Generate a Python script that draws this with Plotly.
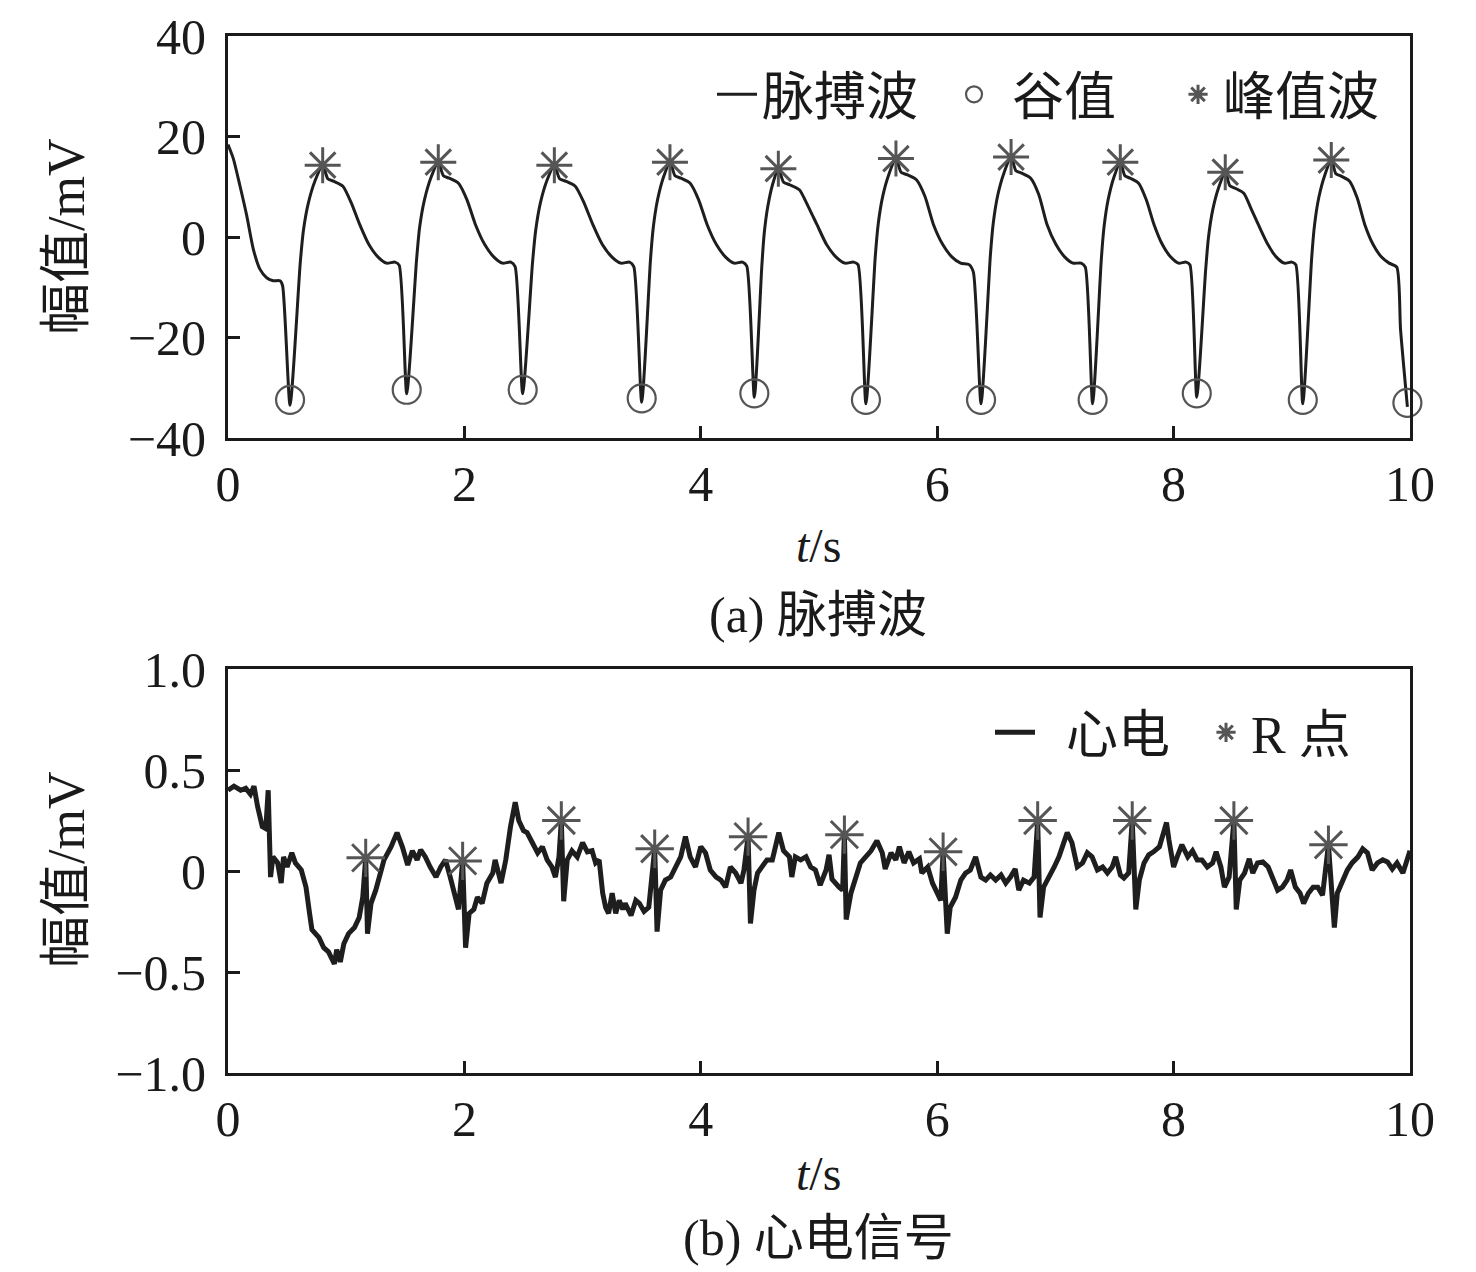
import plotly.graph_objects as go

# ---- (a) pulse wave ----
pulse_t = [
    0.000, 0.045, 0.100, 0.158, 0.214, 0.270, 0.327, 0.383, 0.440, 0.462, 0.525,
    0.611, 0.638, 0.680, 0.738, 0.801, 0.844, 0.893, 0.972, 1.043, 1.114, 1.192, 1.270, 1.341, 1.412, 1.448, 1.512,
    1.595, 1.621, 1.662, 1.718, 1.779, 1.822, 1.872, 1.950, 2.022, 2.093, 2.172, 2.250, 2.322, 2.393, 2.429, 2.493,
    2.576, 2.603, 2.643, 2.699, 2.761, 2.805, 2.857, 2.938, 3.012, 3.086, 3.167, 3.249, 3.323, 3.397, 3.433, 3.500,
    3.574, 3.598, 3.634, 3.684, 3.739, 3.782, 3.832, 3.910, 3.982, 4.053, 4.132, 4.210, 4.282, 4.353, 4.389, 4.453,
    4.516, 4.536, 4.567, 4.609, 4.656, 4.700, 4.752, 4.834, 4.908, 4.982, 5.064, 5.145, 5.219, 5.293, 5.330, 5.397,
    5.476, 5.501, 5.539, 5.593, 5.651, 5.694, 5.745, 5.824, 5.896, 5.968, 6.047, 6.126, 6.198, 6.270, 6.306, 6.371,
    6.450, 6.475, 6.513, 6.567, 6.625, 6.666, 6.715, 6.791, 6.860, 6.929, 7.005, 7.080, 7.149, 7.218, 7.253, 7.315,
    7.388, 7.411, 7.446, 7.495, 7.549, 7.588, 7.633, 7.704, 7.769, 7.834, 7.905, 7.976, 8.041, 8.105, 8.138, 8.196,
    8.271, 8.295, 8.331, 8.382, 8.437, 8.476, 8.522, 8.594, 8.660, 8.726, 8.798, 8.870, 8.936, 9.001, 9.034, 9.093,
    9.168, 9.192, 9.228, 9.279, 9.334, 9.373, 9.418, 9.489, 9.553, 9.617, 9.688, 9.759, 9.823, 9.888, 9.920, 9.978,
]
pulse_v = [
    18.4, 15.6, 10.3, 4.3, -2.4, -6.4, -8.1, -8.7, -8.7, -9.7, -33.5,
    -5.2, 1.3, 6.8, 11.3, 14.3, 11.6, 11.1, 10.1, 6.8, 2.5, -1.5, -4.0, -5.2, -5.0, -5.6, -31.2,
    -4.6, 1.9, 7.4, 11.9, 14.9, 12.2, 11.7, 10.7, 7.4, 2.5, -1.5, -4.0, -5.2, -5.0, -5.9, -31.2,
    -5.2, 1.3, 6.8, 11.3, 14.3, 11.6, 11.1, 10.1, 6.8, 2.5, -1.5, -4.0, -5.2, -5.0, -5.9, -32.9,
    -4.6, 1.9, 7.4, 11.9, 14.9, 12.2, 11.7, 10.7, 7.4, 2.5, -1.5, -4.0, -5.2, -5.0, -5.8, -31.9,
    -5.9, 0.6, 6.1, 10.6, 13.6, 10.9, 10.4, 9.4, 6.1, 2.5, -1.5, -4.0, -5.2, -5.0, -5.5, -33.2,
    -3.9, 2.6, 8.1, 12.6, 15.6, 12.9, 12.4, 11.4, 8.1, 2.5, -1.5, -4.0, -5.2, -5.5, -7.0, -33.2,
    -3.6, 2.9, 8.4, 12.9, 15.9, 13.2, 12.7, 11.7, 8.4, 2.5, -1.5, -4.0, -5.2, -5.2, -6.0, -33.2,
    -4.6, 1.9, 7.4, 11.9, 14.9, 12.2, 11.7, 10.7, 7.4, 2.5, -1.5, -4.0, -5.2, -5.0, -5.5, -31.9,
    -6.6, -0.1, 5.4, 9.9, 12.9, 10.2, 9.7, 8.7, 5.4, 2.0, -1.5, -4.0, -5.2, -5.0, -5.5, -33.2,
    -4.2, 2.3, 7.8, 12.3, 15.3, 12.6, 12.1, 11.1, 7.8, 2.5, -1.5, -4.0, -5.2, -6.0, -18.4, -33.8,
]
valley_t = [0.525, 1.512, 2.493, 3.500, 4.453, 5.397, 6.371, 7.315, 8.196, 9.093, 9.978]
valley_v = [-32.4, -30.4, -30.4, -32.1, -31.1, -32.4, -32.4, -32.4, -31.1, -32.4, -33.0]
peak_t = [0.801, 1.779, 2.761, 3.739, 4.656, 5.651, 6.625, 7.549, 8.437, 9.334]
peak_v = [14.3, 14.9, 14.3, 14.9, 13.6, 15.6, 15.9, 14.9, 12.9, 15.3]

# ---- (b) ECG signal ----
ecg_t = [
    0.00, 0.05, 0.107, 0.15, 0.19, 0.22, 0.25, 0.29, 0.32, 0.34, 0.36, 0.38, 0.42, 0.45, 0.47,
    0.50, 0.54, 0.57, 0.62, 0.66, 0.69, 0.71, 0.77, 0.81, 0.85, 0.90, 0.92, 0.95, 0.98, 1.02,
    1.07, 1.11, 1.14, 1.165, 1.18, 1.21, 1.25, 1.28, 1.32, 1.38, 1.43, 1.475, 1.52, 1.56, 1.60,
    1.63, 1.67, 1.71, 1.76, 1.80, 1.84, 1.88, 1.93, 1.95, 1.985, 2.01, 2.04, 2.08, 2.11, 2.15,
    2.19, 2.24, 2.26, 2.31, 2.35, 2.39, 2.43, 2.46, 2.50, 2.53, 2.575, 2.62, 2.66, 2.70, 2.74,
    2.77, 2.80, 2.82, 2.84, 2.87, 2.91, 2.955, 3.00, 3.04, 3.08, 3.11, 3.14, 3.17, 3.195, 3.22,
    3.25, 3.28, 3.31, 3.34, 3.36, 3.41, 3.45, 3.48, 3.52, 3.56, 3.61, 3.63, 3.66, 3.70, 3.745,
    3.79, 3.83, 3.87, 3.91, 3.955, 4.00, 4.04, 4.08, 4.13, 4.17, 4.21, 4.25, 4.295, 4.34, 4.365,
    4.40, 4.42, 4.45, 4.48, 4.52, 4.56, 4.605, 4.66, 4.70, 4.75, 4.77, 4.80, 4.845, 4.89, 4.93,
    4.97, 5.01, 5.06, 5.085, 5.11, 5.17, 5.20, 5.215, 5.23, 5.27, 5.31, 5.35, 5.395, 5.44, 5.49,
    5.535, 5.56, 5.61, 5.65, 5.68, 5.72, 5.76, 5.80, 5.85, 5.87, 5.92, 5.96, 6.00, 6.03, 6.05,
    6.085, 6.11, 6.155, 6.20, 6.24, 6.28, 6.325, 6.37, 6.41, 6.45, 6.495, 6.54, 6.58, 6.62, 6.66,
    6.69, 6.73, 6.78, 6.82, 6.85, 6.87, 6.90, 6.95, 6.99, 7.03, 7.07, 7.10, 7.14, 7.185, 7.23,
    7.27, 7.31, 7.355, 7.40, 7.44, 7.48, 7.51, 7.55, 7.58, 7.62, 7.65, 7.68, 7.71, 7.75, 7.79,
    7.83, 7.88, 7.92, 7.94, 7.96, 8.00, 8.03, 8.07, 8.12, 8.16, 8.20, 8.24, 8.285, 8.33, 8.36,
    8.40, 8.43, 8.47, 8.51, 8.53, 8.56, 8.60, 8.64, 8.67, 8.71, 8.755, 8.80, 8.84, 8.88, 8.92,
    8.96, 8.99, 9.03, 9.07, 9.10, 9.14, 9.18, 9.22, 9.26, 9.31, 9.36, 9.385, 9.43, 9.47, 9.51,
    9.56, 9.60, 9.64, 9.68, 9.725, 9.77, 9.81, 9.85, 9.89, 9.94, 9.98, 10.0,
]
ecg_v = [
    0.40, 0.42, 0.40, 0.41, 0.38, 0.42, 0.32, 0.22, 0.21, 0.40, -0.03, 0.07, 0.04, -0.06, 0.07,
    0.02, 0.09, 0.04, 0.005, -0.08, -0.21, -0.29, -0.33, -0.38, -0.40, -0.46, -0.39, -0.45, -0.36, -0.31,
    -0.28, -0.23, -0.13, 0.065, -0.31, -0.16, -0.095, -0.03, 0.055, 0.12, 0.19, 0.12, 0.03, 0.10, 0.055,
    0.105, 0.07, 0.02, -0.03, 0.02, 0.055, -0.03, -0.13, -0.19, 0.05, -0.38, -0.21, -0.19, -0.13, -0.16,
    -0.06, -0.01, 0.055, -0.06, 0.055, 0.22, 0.34, 0.25, 0.20, 0.19, 0.14, 0.09, 0.12, 0.055, 0.02,
    -0.03, 0.07, 0.25, -0.15, 0.055, 0.10, 0.07, 0.14, 0.095, 0.10, 0.04, 0.055, -0.11, -0.18, -0.21,
    -0.11, -0.21, -0.145, -0.19, -0.16, -0.22, -0.145, -0.16, -0.20, -0.18, 0.11, -0.30, -0.095, -0.045, -0.03,
    0.02, 0.07, 0.17, 0.07, 0.02, 0.12, 0.09, 0.005, -0.03, -0.045, -0.08, 0.02, -0.01, -0.06, 0.005,
    0.17, -0.26, -0.095, -0.01, 0.02, 0.055, 0.055, 0.19, 0.10, 0.07, -0.03, 0.07, 0.055, 0.07, 0.02,
    0.005, -0.07, 0.005, 0.08, -0.04, -0.08, -0.095, 0.18, -0.24, -0.11, -0.03, 0.04, 0.07, 0.10, 0.15,
    0.09, 0.01, 0.09, 0.055, 0.12, 0.04, 0.095, 0.04, 0.06, -0.01, 0.02, -0.06, -0.11, -0.145, 0.095,
    -0.31, -0.18, -0.13, -0.045, -0.01, 0.005, 0.07, -0.03, -0.045, -0.02, -0.045, -0.02, -0.06, -0.03, 0.01,
    -0.095, -0.045, -0.06, -0.03, 0.25, -0.23, -0.08, -0.03, 0.02, 0.07, 0.14, 0.19, 0.14, 0.02, 0.04,
    0.09, 0.07, 0.005, 0.02, -0.01, 0.02, 0.07, -0.02, -0.035, -0.01, 0.25, -0.19, -0.045, 0.04, 0.08,
    0.095, 0.12, 0.20, 0.24, 0.155, 0.02, 0.07, 0.13, 0.07, 0.10, 0.055, 0.055, 0.02, 0.04, 0.095,
    0.02, -0.08, -0.03, 0.25, -0.19, -0.045, -0.01, 0.06, -0.01, 0.04, 0.045, 0.02, -0.045, -0.095, -0.08,
    -0.045, 0.005, -0.08, -0.11, -0.16, -0.11, -0.08, -0.08, -0.12, 0.13, -0.28, -0.11, -0.045, 0.005, 0.04,
    0.07, 0.11, 0.09, 0.005, 0.04, 0.055, 0.045, 0.01, 0.04, -0.01, 0.055, 0.10,
]
r_t = [1.165, 1.985, 2.82, 3.61, 4.40, 5.215, 6.05, 6.85, 7.65, 8.51, 9.31]
r_v = [0.065, 0.05, 0.25, 0.11, 0.17, 0.18, 0.095, 0.25, 0.25, 0.25, 0.13]

x_ticks = [0, 2, 4, 6, 8, 10]
y1_ticks = [-40, -20, 0, 20, 40]
y1_text = ["−40", "−20", "0", "20", "40"]
y2_ticks = [-1.0, -0.5, 0, 0.5, 1.0]
y2_text = ["−1.0", "−0.5", "0", "0.5", "1.0"]

W, H = 1476, 1272
FONT = "Liberation Serif, Noto Sans CJK SC, serif"
INK = "#1a1a1a"
LINE = "#1e1e1e"
MARK = "#555555"

fig = go.Figure()

fig.add_trace(go.Scatter(x=pulse_t, y=pulse_v, mode="lines", name="脉搏波  ",
                         line=dict(color=LINE, width=3, shape="spline", smoothing=0.6),
                         xaxis="x", yaxis="y", legend="legend"))
fig.add_trace(go.Scatter(x=valley_t, y=valley_v, mode="markers", name=" 谷值    ",
                         marker=dict(symbol="circle-open", size=28, color=MARK, line=dict(width=2.2, color=MARK)),
                         cliponaxis=False, xaxis="x", yaxis="y", legend="legend"))
fig.add_trace(go.Scatter(x=peak_t, y=peak_v, mode="markers", name="峰值波",
                         marker=dict(symbol="asterisk-open", size=30, color=MARK, line=dict(width=3, color=MARK)),
                         cliponaxis=False, xaxis="x", yaxis="y", legend="legend"))

fig.add_trace(go.Scatter(x=ecg_t, y=ecg_v, mode="lines", name="  心电  ",
                         line=dict(color=LINE, width=5),
                         xaxis="x2", yaxis="y2", legend="legend2"))
fig.add_trace(go.Scatter(x=r_t, y=r_v, mode="markers", name="R 点",
                         marker=dict(symbol="asterisk-open", size=32, color=MARK, line=dict(width=3, color=MARK)),
                         cliponaxis=False, xaxis="x2", yaxis="y2", legend="legend2"))

xd = [228 / W, 1410 / W]
axis_common = dict(showline=True, linecolor=INK, linewidth=3, mirror=True,
                   ticks="inside", ticklen=12, tickwidth=3, tickcolor=INK,
                   showgrid=False, zeroline=False, automargin=False,
                   tickfont=dict(family=FONT, size=50, color=INK))

fig.update_layout(
    width=W, height=H,
    margin=dict(l=0, r=0, t=0, b=0, autoexpand=False),
    paper_bgcolor="white", plot_bgcolor="white",
    font=dict(family=FONT, color=INK),
    xaxis=dict(domain=xd, range=[0, 10], tickvals=x_ticks, anchor="y",
               ticklabelstandoff=0, **axis_common),
    yaxis=dict(domain=[1 - 438 / H, 1 - 36 / H], range=[-40, 40], tickvals=y1_ticks,
               ticktext=y1_text, anchor="x", ticklabelstandoff=9, **axis_common),
    xaxis2=dict(domain=xd, range=[0, 10], tickvals=x_ticks, anchor="y2",
                ticklabelstandoff=0, **axis_common),
    yaxis2=dict(domain=[1 - 1073 / H, 1 - 669 / H], range=[-1, 1], tickvals=y2_ticks,
                ticktext=y2_text, anchor="x2", ticklabelstandoff=9, **axis_common),
    legend=dict(orientation="h", x=1385 / W, xanchor="right", y=1 - 54 / H, yanchor="top",
                font=dict(family=FONT, size=52, color=INK), bgcolor="rgba(0,0,0,0)",
                itemwidth=40, tracegroupgap=0),
    legend2=dict(orientation="h", x=1356 / W, xanchor="right", y=1 - 692 / H, yanchor="top",
                 font=dict(family=FONT, size=52, color=INK), bgcolor="rgba(0,0,0,0)",
                 itemwidth=40),
)

labels = [
    ("<i>t</i>/s", 818, 545, 48, 0),
    ("(a) 脉搏波", 818, 615, 50, 0),
    ("<i>t</i>/s", 818, 1173, 48, 0),
    ("(b) 心电信号", 818, 1238, 50, 0),
    ("幅值/mV", 66, 237, 52, -90),
    ("幅值/mV", 66, 870, 52, -90),
]
for text, px, py, size, ang in labels:
    fig.add_annotation(text=text, x=px / W, y=1 - py / H, xref="paper", yref="paper",
                       showarrow=False, textangle=ang, xanchor="center", yanchor="middle",
                       font=dict(family=FONT, size=size, color=INK))

fig.write_html("out.html", config={"displayModeBar": False},
               post_script="document.body.style.margin='0';")
